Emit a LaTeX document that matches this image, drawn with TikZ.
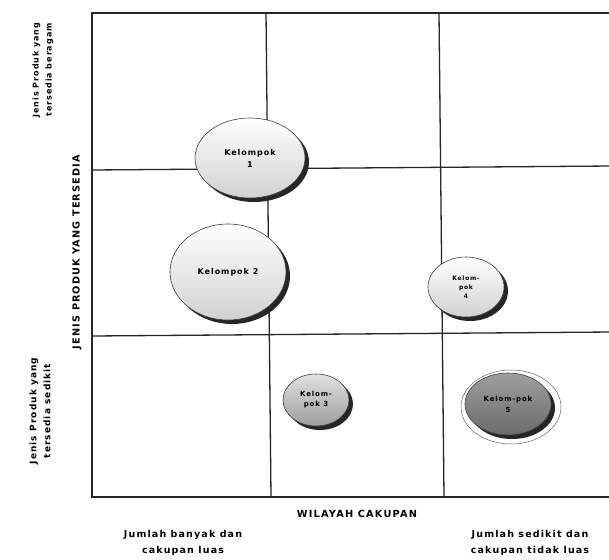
\documentclass[tikz,border=0pt]{standalone}
\usepackage{fontspec}
\newfontfamily\lblfont{DejaVu Sans}[LetterSpace=12]
\usetikzlibrary{shapes.geometric, shadows}

\tikzset{
  kelompok/.style={ellipse, draw=black!75, line width=0.6pt, inner sep=0pt, align=center,
    top color=white, bottom color=black!18,
    font=\lblfont\bfseries\fontsize{8}{12}\selectfont,
    drop shadow={shadow xshift=4pt, shadow yshift=-4pt, fill=black!85, opacity=1}},
  sidelabel/.style={align=center, rotate=90, font=\lblfont\bfseries\fontsize{8}{13}\selectfont},
  baselabel/.style={align=center, font=\lblfont\bfseries\fontsize{9.5}{16}\selectfont}
}

\begin{document}
\begin{tikzpicture}[x=1pt,y=-1pt]
        \useasboundingbox[fill=white] (0,0) rectangle (609,559);

        \coordinate (TL) at (92,13);
        \coordinate (BR) at (612,497);
        \coordinate (V1t) at (266,13);
        \coordinate (V1b) at (271,497);
        \coordinate (V2t) at (439,13);
        \coordinate (V2b) at (444,497);
        \coordinate (H1l) at (92,170);
        \coordinate (H1r) at (612,166);
        \coordinate (H2l) at (92,336);
        \coordinate (H2r) at (612,332);

        \draw[line width=1.3pt, black!85] (V1t)--(V1b);
        \draw[line width=1.3pt, black!85] (V2t)--(V2b);
        \draw[line width=1.3pt, black!85] (H1l)--(H1r);
        \draw[line width=1.3pt, black!85] (H2l)--(H2r);
        \draw[line width=2.2pt, black!85] (TL) rectangle (BR);

        \node[kelompok, minimum width=110, minimum height=80] (K1) at (250,158) {Kelompok\\1};
        \node[kelompok, minimum width=116, minimum height=96] (K2) at (228,272) {Kelompok 2};
        \node[kelompok, minimum width=66, minimum height=52, top color=black!12, bottom color=black!38,
              font=\lblfont\bfseries\fontsize{7}{10}\selectfont] (K3) at (316,400) {Kelom-\\pok 3};
        \node[kelompok, minimum width=76, minimum height=60,
              font=\lblfont\bfseries\fontsize{6}{9}\selectfont] (K4) at (466,287) {Kelom-\\pok\\4};
        \node[ellipse, draw=black!60, line width=0.5pt, fill=white, minimum width=100, minimum height=74] (K5ring) at (511,407) {};
        \node[kelompok, minimum width=86, minimum height=62, top color=black!38, bottom color=black!58,
              font=\lblfont\bfseries\fontsize{7}{11}\selectfont] (K5) at (508,404) {Kelom-pok\\5};

        \node[sidelabel] (TopSide) at (43,70) {Jenis Produk yang\\tersedia beragam};
        \node[sidelabel, font=\lblfont\bfseries\fontsize{9}{14}\selectfont] (LowSide) at (40,411) {Jenis Produk yang\\tersedia sedikit};
        \node[sidelabel, font=\lblfont\bfseries\fontsize{9.7}{11}\selectfont] (YAxis) at (77,252) {JENIS PRODUK YANG TERSEDIA};

        \node[baselabel, font=\lblfont\bfseries\fontsize{9.8}{11}\selectfont] (XAxis) at (357,514) {WILAYAH CAKUPAN};
        \node[baselabel] (LeftBase) at (183,543) {Jumlah banyak dan\\cakupan luas};
        \node[baselabel] (RightBase) at (530,543) {Jumlah sedikit dan\\cakupan tidak luas};
    \end{tikzpicture}
\end{document}
